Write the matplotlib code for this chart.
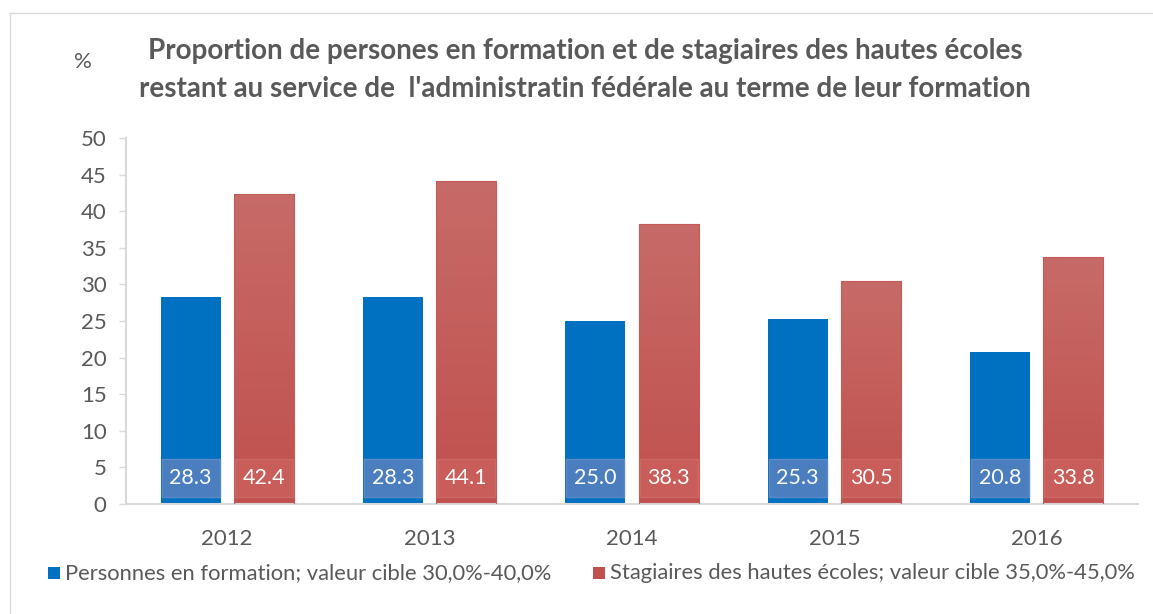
import matplotlib
matplotlib.use("Agg")
import matplotlib.pyplot as plt
import numpy as np
from matplotlib.patches import Rectangle
from matplotlib.lines import Line2D
from matplotlib.colors import LinearSegmentedColormap

years = ["2012", "2013", "2014", "2015", "2016"]
personnes = [28.3, 28.3, 25.0, 25.3, 20.8]
stagiaires = [42.4, 44.1, 38.3, 30.5, 33.8]
series_labels = ["Personnes en formation; valeur cible 30,0%-40,0%",
                 "Stagiaires des hautes écoles; valeur cible 35,0%-45,0%"]
title = ("Proportion de persones en formation et de stagiaires des hautes écoles\n"
         "restant au service de  l'administratin fédérale au terme de leur formation")

plt.rcParams['font.family'] = ['Lato', 'DejaVu Sans']
txt = '#595959'
blue = '#0070c0'
red = '#c0504d'

W, H = 1153, 614
fig = plt.figure(figsize=(W/100, H/100), dpi=100)
ax = fig.add_axes([126/W, 1-504/H, (1138-126)/W, (504-138)/H])

x = np.arange(len(years))
bw = 0.297
off = 0.181
b1 = ax.bar(x - off, personnes, bw, color=blue, zorder=2)
b2 = ax.bar(x + off, stagiaires, bw, color='none', edgecolor='#c55a57', linewidth=0.8, zorder=3)

cmap = LinearSegmentedColormap.from_list('r', ['#c0504d', '#c76b68'])
grad = np.linspace(0, 1, 256).reshape(-1, 1)
for r in b2:
    x0, w, h = r.get_x(), r.get_width(), r.get_height()
    im = ax.imshow(grad, cmap=cmap, aspect='auto', origin='lower',
                   extent=[x0, x0 + w, 0, h], zorder=2)
    im.set_clip_path(r)

# value label boxes
for bars, vals, fc, ec in [(b1, personnes, '#4a7ebf', '#5a8bc8'),
                           (b2, stagiaires, '#c95d5a', '#cd6865')]:
    for r, v in zip(bars, vals):
        x0, w = r.get_x(), r.get_width()
        ax.add_patch(Rectangle((x0 + 0.005, 0.95), w - 0.01, 5.2, facecolor=fc,
                               edgecolor=ec, linewidth=1, zorder=4))
        ax.text(x0 + w/2, 3.55, f"{v:.1f}", ha='center', va='center',
                color='white', fontsize=15.5, zorder=5)

ax.set_xlim(-0.5, len(years) - 0.5)
ax.set_ylim(0, 50)
ax.set_yticks(range(0, 51, 5))
ax.set_xticks(x)
ax.set_xticklabels(years)
ax.tick_params(axis='x', length=0, pad=18, labelsize=16, labelcolor=txt)
ax.tick_params(axis='y', length=5, width=1, color='#d9d9d9', pad=9,
               labelsize=16, labelcolor=txt)
for s in ['top', 'right']:
    ax.spines[s].set_visible(False)
for s in ['left', 'bottom']:
    ax.spines[s].set_color('#d9d9d9')
    ax.spines[s].set_linewidth(1.5)
ax.patch.set_alpha(0)

fig.text(585/W, 1-70/H, title, ha='center', va='center', fontsize=20,
         fontweight='bold', color=txt, linespacing=1.55)
fig.text(83/W, 1-62/H, '%', ha='center', va='center', fontsize=16, color=txt)

# legend
fig.patches.append(Rectangle((48/W, 1-579/H), 12/W, 12/H, transform=fig.transFigure,
                             facecolor=blue, edgecolor='none'))
fig.text(65/W, 1-573/H, series_labels[0], ha='left', va='center', fontsize=15.8, color=txt)
fig.patches.append(Rectangle((593/W, 1-579/H), 12/W, 12/H, transform=fig.transFigure,
                             facecolor=red, edgecolor='none'))
fig.text(610/W, 1-573/H, series_labels[1], ha='left', va='center', fontsize=15.8, color=txt)

# outer border
fig.add_artist(Line2D([10/W, 10/W], [0, 1-13/H], transform=fig.transFigure, color='#d9d9d9', lw=1))
fig.add_artist(Line2D([10/W, 1], [1-13/H, 1-13/H], transform=fig.transFigure, color='#d9d9d9', lw=1))

fig.savefig('out.png', dpi=100)
